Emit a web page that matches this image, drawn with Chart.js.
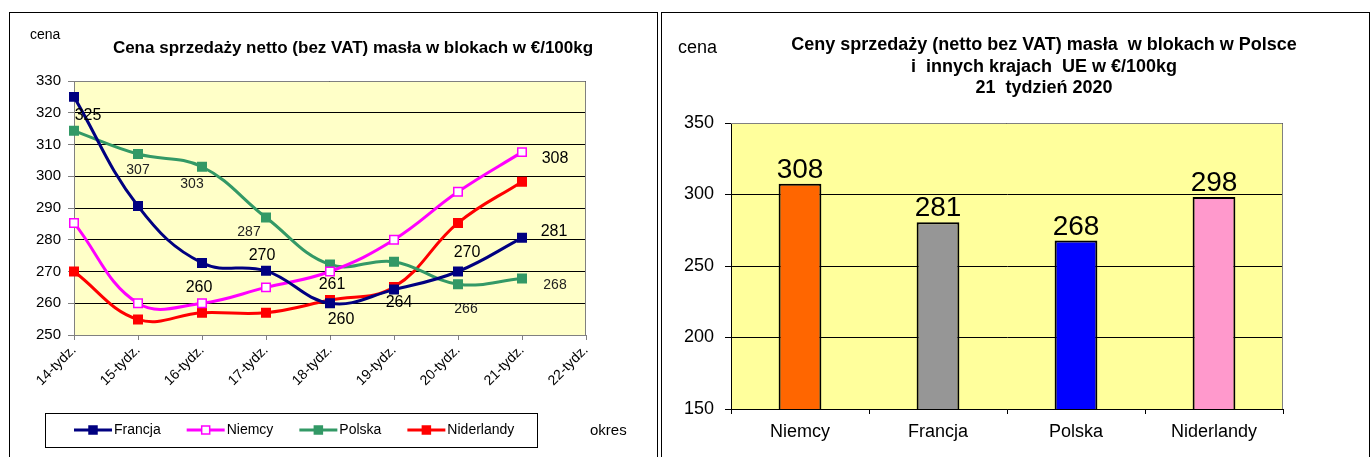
<!DOCTYPE html>
<html>
<head>
<meta charset="utf-8">
<title>Ceny sprzedaży masła w blokach</title>
<script src="https://cdn.jsdelivr.net/npm/chart.js"></script>
<style>
    body { margin: 0; background: #fff; font-family: "Liberation Sans", Arial, sans-serif; }
    .panel { position: absolute; border: 1px solid #000; box-sizing: border-box; }
    .txt { position: absolute; white-space: nowrap; color: #000; }
    .title { font-weight: bold; text-align: center; transform: translateX(-50%); }
</style>
</head>
<body>
<div class="panel" style="left:9px;top:12px;width:649px;height:460px"></div>
<div class="panel" style="left:661px;top:12px;width:709px;height:460px"></div>

<canvas id="lineChart" style="position:absolute;left:10px;top:13px" width="647" height="444"></canvas>
<canvas id="barChart" style="position:absolute;left:663px;top:13px" width="705" height="444"></canvas>

<div class="txt title" style="left:353px;top:38px;font-size:17px;line-height:20px">Cena sprzedaży netto (bez VAT) masła w blokach w €/100kg</div>
<div class="txt" style="left:30px;top:26px;font-size:14px;line-height:16px">cena</div>
<div class="txt" style="left:590px;top:421px;font-size:15px;line-height:18px">okres</div>

<div class="txt title" style="left:1044px;top:34px;font-size:18px;line-height:21.5px">Ceny sprzedaży (netto bez VAT) masła&nbsp; w blokach w Polsce<br>i&nbsp; innych krajach&nbsp; UE w €/100kg<br>21&nbsp; tydzień 2020</div>
<div class="txt" style="left:678px;top:37px;font-size:18px;line-height:20px">cena</div>

<script>
    // dane - tygodnie 14-21, 2020
    const weeks = ['14-tydz.', '15-tydz.', '16-tydz.', '17-tydz.', '18-tydz.', '19-tydz.', '20-tydz.', '21-tydz.', '22-tydz.'];
    const francja = [325, 290.6, 272.7, 270.2, 260, 264.3, 270, 280.6];
    const niemcy = [285.3, 260, 260, 265, 270, 280, 295.1, 307.6];
    const polska = [314.3, 307, 303, 287, 272.2, 273.1, 266, 267.8];
    const niderlandy = [270, 254.9, 257, 257, 261, 265.1, 285.3, 298.3];
    const yTicksLine = [250, 260, 270, 280, 290, 300, 310, 320, 330];

    const countries = ['Niemcy', 'Francja', 'Polska', 'Niderlandy'];
    const week21 = [307.6, 280.6, 267.8, 298.3];
    const yTicksBar = [150, 200, 250, 300, 350];

    Chart.defaults.font.family = '"Liberation Sans", Arial, sans-serif';
    Chart.defaults.color = '#000';

    // tlo obszaru wykresu + ramka
    const plotArea = {
        id: 'plotArea',
        beforeDraw(chart, args, opts) {
            const a = chart.chartArea, ctx = chart.ctx;
            ctx.save();
            ctx.fillStyle = opts.color;
            ctx.fillRect(a.left, a.top, a.right - a.left, a.bottom - a.top);
            ctx.restore();
        },
        beforeDatasetsDraw(chart, args, opts) {
            const a = chart.chartArea, ctx = chart.ctx;
            ctx.save();
            ctx.strokeStyle = '#808080';
            ctx.lineWidth = 1;
            ctx.beginPath();
            ctx.moveTo(a.left, a.top + 0.5);
            ctx.lineTo(a.right - 0.5, a.top + 0.5);
            ctx.lineTo(a.right - 0.5, a.bottom);
            ctx.stroke();
            ctx.restore();
        }
    };

    // etykiety wartosci przy wybranych punktach
    const pointLabels = {
        id: 'pointLabels',
        afterDatasetsDraw(chart) {
            const ctx = chart.ctx;
            ctx.save();
            ctx.textAlign = 'center';
            ctx.textBaseline = 'middle';
            chart.data.datasets.forEach((ds, i) => {
                const meta = chart.getDatasetMeta(i);
                ctx.font = ds.labelFont;
                ctx.fillStyle = ds.labelColor;
                (ds.valueLabels || []).forEach(([idx, dx, dy]) => {
                    const p = meta.data[idx];
                    ctx.fillText(String(Math.round(ds.data[idx])), p.x + dx, p.y + dy);
                });
            });
            ctx.restore();
        }
    };

    // legenda z linia i znacznikiem, w ramce
    const boxLegend = {
        id: 'boxLegend',
        afterDraw(chart) {
            const ctx = chart.ctx;
            ctx.save();
            ctx.strokeStyle = '#000';
            ctx.lineWidth = 1;
            ctx.strokeRect(35.5, 400.5, 492, 34);
            ctx.font = '14px "Liberation Sans", Arial, sans-serif';
            ctx.textBaseline = 'middle';
            ctx.fillStyle = '#000';
            let x = 64;
            const y = 417;
            chart.data.datasets.forEach(ds => {
                ctx.strokeStyle = ds.borderColor;
                ctx.lineWidth = 3;
                ctx.beginPath();
                ctx.moveTo(x, y);
                ctx.lineTo(x + 38, y);
                ctx.stroke();
                ctx.fillStyle = ds.pointBackgroundColor;
                ctx.fillRect(x + 15, y - 4, 8, 8);
                ctx.lineWidth = 1.5;
                ctx.strokeStyle = ds.pointBorderColor;
                ctx.strokeRect(x + 15, y - 4, 8, 8);
                ctx.fillStyle = '#000';
                ctx.fillText(ds.label, x + 40, y);
                x += 40 + ctx.measureText(ds.label).width + 26;
            });
            ctx.restore();
        }
    };

    function lineSet(label, data, color, fill, labels, font, labelColor) {
        return {
            label: label,
            data: data,
            borderColor: color,
            borderWidth: 3,
            tension: 0.4,
            pointStyle: 'rect',
            pointRadius: 6,
            pointBorderWidth: 1.5,
            pointBorderColor: color,
            pointBackgroundColor: fill,
            valueLabels: labels,
            labelFont: font,
            labelColor: labelColor
        };
    }

    const big = '16px "Liberation Sans", Arial, sans-serif';
    const small = '14px "Liberation Sans", Arial, sans-serif';

    new Chart(document.getElementById('lineChart'), {
        type: 'line',
        data: {
            labels: weeks,
            datasets: [
                lineSet('Francja', francja, '#000080', '#000080',
                    [[0, 14, 19], [3, -4, -15], [4, 11, 16], [5, 5, 13], [6, 9, -19], [7, 32, -6]], big, '#000'),
                lineSet('Niemcy', niemcy, '#ff00ff', '#ffffff',
                    [[2, -3, -16], [7, 33, 6]], big, '#000'),
                lineSet('Polska', polska, '#339966', '#339966',
                    [[1, 0, 16], [2, -10, 17], [3, -17, 15], [6, 8, 25], [7, 33, 7]], small, '#222'),
                lineSet('Niderlandy', niderlandy, '#ff0000', '#ff0000',
                    [[4, 2, -15]], big, '#000')
            ]
        },
        options: {
            responsive: false,
            animation: false,
            layout: { padding: { left: 0, right: 71, top: 68, bottom: 62 } },
            plugins: {
                legend: { display: false },
                tooltip: { enabled: false },
                plotArea: { color: '#ffffc8' }
            },
            scales: {
                x: {
                    afterFit(scale) { scale.height = 60; },
                    grid: { drawOnChartArea: false, tickLength: 5, color: '#808080' },
                    border: { color: '#808080' },
                    ticks: { autoSkip: false, minRotation: 45, maxRotation: 45, padding: 2,
                        font: { size: 14 } }
                },
                y: {
                    min: 250,
                    max: 330,
                    afterFit(scale) { scale.width = 64; },
                    afterBuildTicks(scale) { scale.ticks = yTicksLine.map(v => ({ value: v })); },
                    grid: { color: '#000', tickColor: '#808080', tickLength: 6 },
                    border: { color: '#808080' },
                    ticks: { padding: 7, font: { size: 15 } }
                }
            }
        },
        plugins: [plotArea, pointLabels, boxLegend]
    });

    // etykiety nad slupkami
    const barLabels = {
        id: 'barLabels',
        afterDatasetsDraw(chart) {
            const ctx = chart.ctx;
            const meta = chart.getDatasetMeta(0);
            ctx.save();
            ctx.font = '28px "Liberation Sans", Arial, sans-serif';
            ctx.textAlign = 'center';
            ctx.textBaseline = 'alphabetic';
            ctx.fillStyle = '#000';
            meta.data.forEach((bar, i) => {
                ctx.fillText(String(Math.round(chart.data.datasets[0].data[i])), bar.x, bar.y - 6);
            });
            ctx.restore();
        }
    };

    new Chart(document.getElementById('barChart'), {
        type: 'bar',
        data: {
            labels: countries,
            datasets: [{
                label: '21 tydzień 2020',
                data: week21,
                backgroundColor: ['#ff6600', '#969696', '#0000ff', '#ff99cc'],
                borderColor: '#000',
                borderWidth: 2,
                borderSkipped: 'bottom',
                barPercentage: 0.31,
                categoryPercentage: 1
            }]
        },
        options: {
            responsive: false,
            animation: false,
            layout: { padding: { left: 0, right: 85, top: 110, bottom: 0 } },
            plugins: {
                legend: { display: false },
                tooltip: { enabled: false },
                plotArea: { color: '#ffff9c' }
            },
            scales: {
                x: {
                    afterFit(scale) { scale.height = 48; },
                    grid: { drawOnChartArea: false, offset: true, tickLength: 5, color: '#000' },
                    border: { color: '#000' },
                    ticks: { padding: 7, font: { size: 18 } }
                },
                y: {
                    min: 150,
                    max: 350,
                    afterFit(scale) { scale.width = 68; },
                    afterBuildTicks(scale) { scale.ticks = yTicksBar.map(v => ({ value: v })); },
                    grid: { color: '#000', tickLength: 6 },
                    border: { color: '#000' },
                    ticks: { padding: 11, font: { size: 18 } }
                }
            }
        },
        plugins: [plotArea, barLabels]
    });
</script>
</body>
</html>
